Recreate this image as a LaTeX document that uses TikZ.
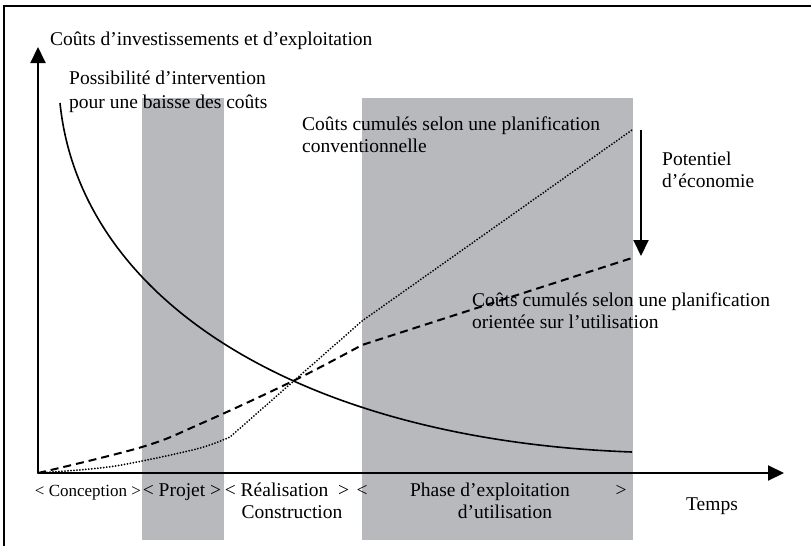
\documentclass[tikz,border=0pt]{standalone}
\usepackage{fontspec}
\setmainfont{Liberation Serif}
\usetikzlibrary{arrows.meta}
\definecolor{band}{RGB}{184,185,189}
\tikzset{
  lab/.style={font=\fontsize{19.5}{21.5}\selectfont, inner sep=0pt, align=left},
  phaselab/.style={font=\fontsize{19.5}{21.5}\selectfont, inner sep=0pt, anchor=base},
  phase/.style={fill=band, draw=none},
  axis/.style={line width=2pt, -{Triangle[length=16pt,width=15pt]}},
  cost/.style={line width=1.6pt},
  conv/.style={line width=2pt, line cap=round, dash pattern=on 0pt off 3pt},
  usage/.style={line width=2pt, dash pattern=on 8pt off 5pt}
}

\begin{document}
\begin{tikzpicture}[x=1pt,y=-1pt]
    \useasboundingbox (0,0) rectangle (811,546);
    % Frame
    \draw[line width=1.5pt] (4,6) rectangle (840,570);

    % Phases
    \fill[phase] (142,98) rectangle (224,540);
    \fill[phase] (362,98) rectangle (633,540);

    % Axes
    \coordinate (O) at (38,473);
    \coordinate (ytop) at (38,47);
    \coordinate (xend) at (784,473);
    \draw[axis] (O) -- (ytop);
    \draw[axis] (O) -- (xend);

    % Curves
    \coordinate (c0) at (60,103);
    \coordinate (c1) at (632,452);
    \draw[cost] (c0) .. controls (80,300) and (300,440) .. (c1);
    \draw[conv] plot[smooth, tension=0.6] coordinates {(38,473) (100,468) (142,461) (200,448) (230,437)} -- (362,321) -- (632,130);
    \draw[usage] plot[smooth, tension=0.6] coordinates {(38,473) (142,447) (200,424) (295,380) (362,345)} -- (632,258);

    % Savings
    \coordinate (s1) at (641,130);
    \coordinate (s2) at (641,256);
    \draw[axis] (s1) -- (s2);

    % Labels
    \node[lab, anchor=base west] (ylab) at (50,45) {Coûts d’investissements et d’exploitation};
    \node[lab, anchor=base west] (interv) at (69,108) {Possibilité d’intervention\\[2pt]pour une baisse des coûts};
    \node[lab, anchor=base west] (convlab) at (302,152) {Coûts cumulés selon une planification\\conventionnelle};
    \node[lab, anchor=base west] (usagelab) at (472,328) {Coûts cumulés selon une planification\\orientée sur l’utilisation};
    \node[lab, anchor=base west] (savlab) at (662,187) {Potentiel\\d’économie};

    % Phase names
    \node[phaselab, font=\fontsize{17}{20}\selectfont] (concept) at (88,496) {< Conception >};
    \node[phaselab] (projet) at (182,496) {<\ Projet\ >};
    \node[phaselab] (real) at (287,496) {< Réalisation \ >};
    \node[phaselab] (constr) at (292,518) {Construction};
    \node[phaselab] (expl1) at (362,496) {<};
    \node[phaselab] (expl) at (490,496) {Phase d’exploitation};
    \node[phaselab] (expl2) at (621,496) {>};
    \node[phaselab] (util) at (505,518) {d’utilisation};
    \node[phaselab] (temps) at (712,510) {Temps};
\end{tikzpicture}
\end{document}
